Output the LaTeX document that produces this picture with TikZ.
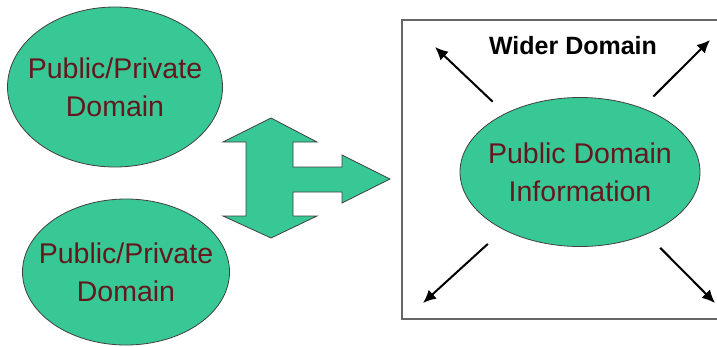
\documentclass[tikz,border=0pt]{standalone}
\usepackage{fontspec}
\setmainfont{Liberation Sans}
\usetikzlibrary{arrows.meta,shapes.geometric}
\definecolor{blobgreen}{RGB}{56,200,150}
\definecolor{blobred}{RGB}{100,24,30}
\begin{document}
\begin{tikzpicture}[x=1pt,y=-1pt,
	blob/.style={ellipse,draw=black!75,line width=0.8pt,fill=blobgreen},
	blobtext/.style={align=center,text=blobred,inner sep=0,
	font=\fontsize{28.5}{38}\selectfont},
	ray/.style={line width=2pt,-{Latex[length=13pt,width=12pt]}}]
\useasboundingbox (0,0) rectangle (717,346);
\node[blob,minimum width=215pt,minimum height=160pt] (privA) at (115,87) {};
\node[blobtext] (privAtext) at (privA) {Public/Private\\Domain};
\node[blob,minimum width=207pt,minimum height=146pt] (privB) at (126,272) {};
\node[blobtext] (privBtext) at (privB) {Public/Private\\Domain};
% three headed arrow
\draw[draw=black!75,line width=0.8pt,fill=blobgreen]
	(271,118) -- (317,142) -- (293,142) -- (293,167) -- (342,167) -- (342,155)
	-- (390,179) -- (342,203) -- (342,192) -- (293,192) -- (293,216) -- (317,216)
	-- (271,238) -- (223,216) -- (246,216) -- (246,142) -- (223,142) -- cycle;
\draw[black!60,line width=1.3pt] (717,20) -| (402,319) -- (717,319);
\node[font=\fontsize{25}{30}\selectfont\bfseries] (wider) at (573,46) {Wider Domain};
\node[blob,minimum width=240pt,minimum height=149pt] (pdi) at (580,172) {};
\node[blobtext] (pditext) at (pdi) {Public Domain\\Information};
\coordinate (nw) at (435,47);
\coordinate (ne) at (710,40);
\coordinate (sw) at (423,303);
\coordinate (se) at (715,303);
\draw[ray,shorten <=17pt] (pdi.142) -- (nw);
\draw[ray,shorten <=16pt] (pdi.46) -- (ne);
\draw[ray,shorten <=21pt] (pdi.-143) -- (sw);
\draw[ray,shorten <=19pt] (pdi.-43) -- (se);
\end{tikzpicture}
\end{document}
